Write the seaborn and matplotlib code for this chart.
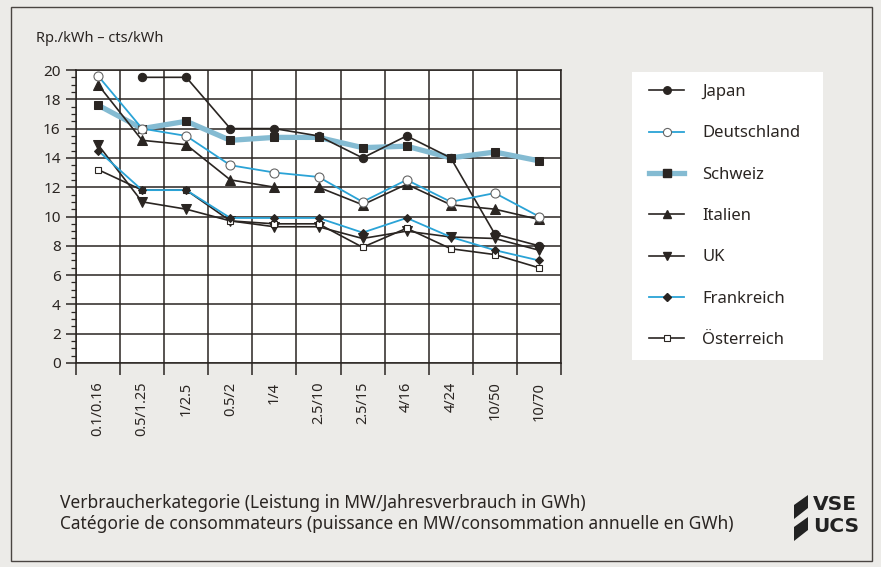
import numpy as np
import pandas as pd
import matplotlib
matplotlib.use("Agg")
import matplotlib.pyplot as plt
import seaborn as sns
from matplotlib.patches import Rectangle, Polygon
from matplotlib.lines import Line2D

# ---------------- data ----------------
categories = ["0.1/0.16", "0.5/1.25", "1/2.5", "0.5/2", "1/4", "2.5/10",
              "2.5/15", "4/16", "4/24", "10/50", "10/70"]
japan = [np.nan, 19.5, 19.5, 16.0, 16.0, 15.5, 14.0, 15.5, 14.0, 8.8, 8.0]
deutschland = [19.6, 16.0, 15.5, 13.5, 13.0, 12.7, 11.0, 12.5, 11.0, 11.6, 10.0]
schweiz = [17.6, 16.0, 16.5, 15.2, 15.4, 15.4, 14.7, 14.8, 14.0, 14.4, 13.8]
italien = [19.0, 15.2, 14.9, 12.5, 12.0, 12.0, 10.8, 12.2, 10.8, 10.5, 9.8]
uk = [14.9, 11.0, 10.5, 9.7, 9.3, 9.3, 8.5, 9.0, 8.6, 8.5, 7.7]
frankreich = [14.5, 11.8, 11.8, 9.9, 9.9, 9.9, 8.9, 9.9, 8.6, 7.7, 7.0]
oesterreich = [13.2, 11.8, 11.8, 9.7, 9.5, 9.5, 7.9, 9.2, 7.8, 7.4, 6.5]
y_ticks = list(range(0, 21, 2))

ylabel_text = "Rp./kWh – cts/kWh"
xlabel_de = "Verbraucherkategorie (Leistung in MW/Jahresverbrauch in GWh)"
xlabel_fr = "Catégorie de consommateurs (puissance en MW/consommation annuelle en GWh)"

# ---------------- styles ----------------
W, H = 881, 567
BG = "#ecebe8"
INK = "#2a2522"
BLUE = "#2aa3d6"
SCHWEIZ_BLUE = "#84bbd2"

plt.rcParams["font.family"] = ["Noto Sans", "DejaVu Sans"]

fig = plt.figure(figsize=(W / 100, H / 100), dpi=100)
fig.patch.set_facecolor(BG)


def fx(px):
    return px / W


def fy(py):
    return 1 - py / H


ax = fig.add_axes([fx(76), fy(363), fx(561) - fx(76), fy(70) - fy(363)])
ax.set_facecolor("white")

x = np.arange(len(categories))
df = pd.DataFrame({"x": x, "Japan": japan, "Deutschland": deutschland,
                   "Schweiz": schweiz, "Italien": italien, "UK": uk,
                   "Frankreich": frankreich, "Österreich": oesterreich})

series = [
    ("Schweiz", dict(color=SCHWEIZ_BLUE, linewidth=3.8, marker="s", markersize=6,
                     markerfacecolor=INK, markeredgecolor=INK, zorder=3)),
    ("Japan", dict(color=INK, linewidth=1.2, marker="o", markersize=6,
                   markerfacecolor=INK, markeredgecolor=INK, zorder=4)),
    ("Deutschland", dict(color=BLUE, linewidth=1.3, marker="o", markersize=6.5,
                         markerfacecolor="white", markeredgecolor="#666666",
                         markeredgewidth=0.8, zorder=5)),
    ("Italien", dict(color=INK, linewidth=1.2, marker="^", markersize=6.5,
                     markerfacecolor=INK, markeredgecolor=INK, zorder=4)),
    ("UK", dict(color=INK, linewidth=1.2, marker="v", markersize=6.5,
                markerfacecolor=INK, markeredgecolor=INK, zorder=4)),
    ("Österreich", dict(color=INK, linewidth=1.2, marker="s", markersize=5,
                        markerfacecolor="white", markeredgecolor=INK,
                        markeredgewidth=0.8, zorder=4)),
    ("Frankreich", dict(color=BLUE, linewidth=1.3, marker="D", markersize=4,
                        markerfacecolor=INK, markeredgecolor=INK, zorder=5)),
]

handles = {}
for name, kw in series:
    sub = df[["x", name]].dropna()
    sns.lineplot(data=sub, x="x", y=name, ax=ax, legend=False, **kw)
    handles[name] = Line2D([], [], **kw)

# axes limits and ticks
ax.set_xlim(-0.5, len(categories) - 0.5)
ax.set_ylim(0, 20)
ax.set_xticks(np.arange(-0.5, len(categories), 1.0))
ax.set_xticklabels([])
ax.set_xticks(x, minor=True)
ax.set_xticklabels(categories, minor=True, rotation=90, fontsize=10.5, color=INK)
ax.tick_params(axis="x", which="major", length=8.5, width=1.1, color=INK,
               direction="out")
ax.tick_params(axis="x", which="minor", length=0, pad=13.5)
ax.set_yticks(y_ticks)
ax.set_yticklabels([str(v) for v in y_ticks], fontsize=11, color=INK)
ax.set_yticks(np.arange(0, 20.01, 0.5), minor=True)
ax.tick_params(axis="y", which="major", length=7, width=1.1, color=INK, pad=4)
ax.tick_params(axis="y", which="minor", length=3.5, width=0.9, color=INK)
ax.grid(True, which="major", color=INK, linewidth=1.1)
ax.set_axisbelow(True)
for s in ax.spines.values():
    s.set_color(INK)
    s.set_linewidth(1.1)
ax.set_xlabel("")
ax.set_ylabel("")

# title
fig.text(fx(36), fy(38), ylabel_text, fontsize=10.5, color=INK, va="center", ha="left")

# legend background
fig.add_artist(Rectangle((fx(632), fy(360)), fx(823) - fx(632), fy(72) - fy(360),
                         transform=fig.transFigure, facecolor="white",
                         edgecolor="none", zorder=1))
order = ["Japan", "Deutschland", "Schweiz", "Italien", "UK", "Frankreich", "Österreich"]
leg = fig.legend([handles[n] for n in order], order, loc="upper left",
                 bbox_to_anchor=(fx(649), fy(84)), frameon=False, fontsize=12,
                 handlelength=2.1, handletextpad=1.1, labelspacing=1.52,
                 borderpad=0, borderaxespad=0, markerscale=0.9)
for t in leg.get_texts():
    t.set_color(INK)
leg.set_zorder(2)

# bottom texts
fig.text(fx(60), fy(508), xlabel_de, fontsize=12.5, color=INK, ha="left", va="baseline")
fig.text(fx(60), fy(529), xlabel_fr, fontsize=12.5, color=INK, ha="left", va="baseline")

# logo
for (x0, y0) in [(794, 505), (794, 527)]:
    pts = [(x0, y0), (x0 + 14, y0 - 10), (x0 + 14, y0 + 3), (x0, y0 + 14)]
    fig.add_artist(Polygon([(fx(a), fy(b)) for a, b in pts], closed=True,
                           transform=fig.transFigure, facecolor="#222222",
                           edgecolor="none"))
fig.text(fx(813), fy(510), "VSE", fontsize=14.5, fontweight="bold", color="#222222",
         ha="left", va="baseline", family=["DejaVu Sans"])
fig.text(fx(813), fy(532), "UCS", fontsize=14.5, fontweight="bold", color="#222222",
         ha="left", va="baseline", family=["DejaVu Sans"])

# frame
fig.add_artist(Rectangle((fx(11), fy(561)), fx(872) - fx(11), fy(7) - fy(561),
                         transform=fig.transFigure, facecolor="none",
                         edgecolor="#4a4542", linewidth=1.0))

fig.savefig("out.png", dpi=100, facecolor=BG)
